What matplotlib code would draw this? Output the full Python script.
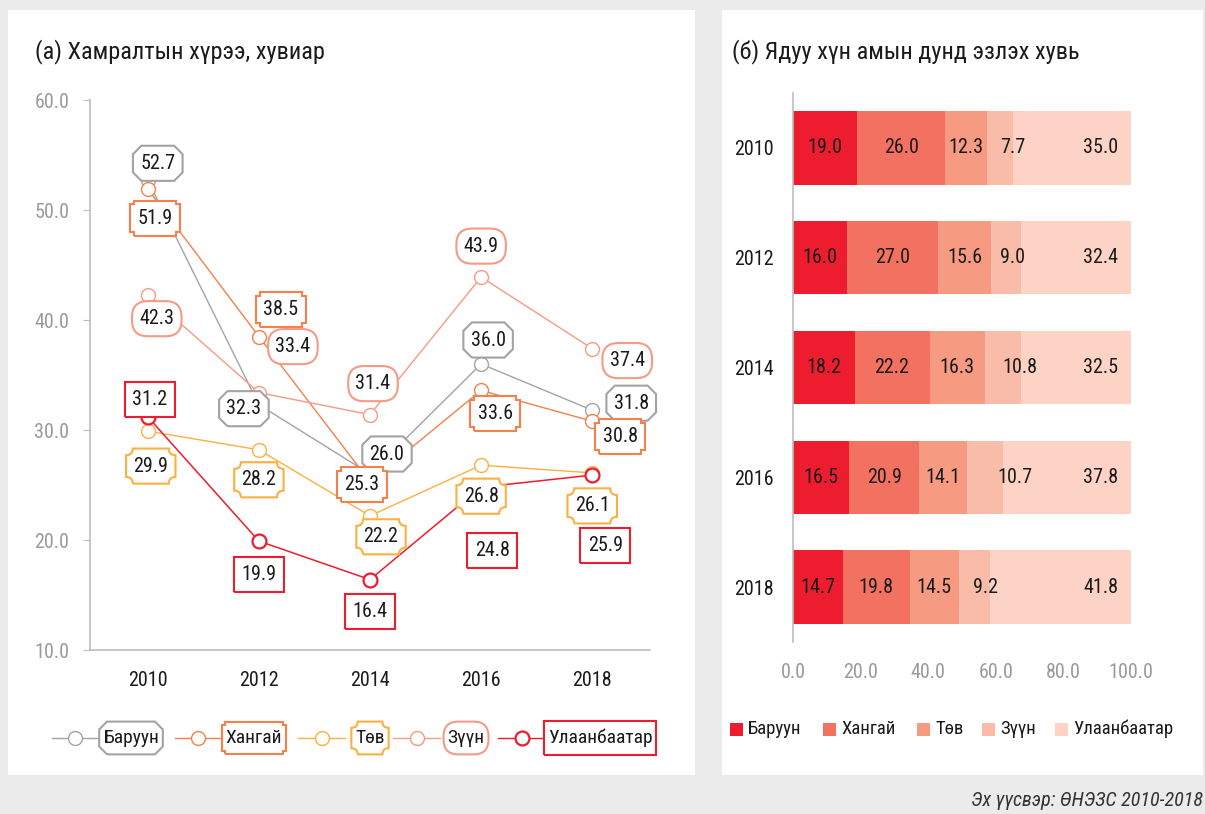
import matplotlib
matplotlib.use('Agg')
import matplotlib.pyplot as plt
from matplotlib import font_manager
from matplotlib.path import Path
from matplotlib.patches import Rectangle
from matplotlib.lines import Line2D
import numpy as np

# pick a narrow face if one is installed
_ents = font_manager.fontManager.ttflist
_names = {f.name for f in _ents}
fs_scale = 1.0
if 'Roboto Condensed' in _names:
    plt.rcParams['font.family'] = ['Roboto Condensed', 'DejaVu Sans']
elif 'Liberation Sans Narrow' in _names:
    plt.rcParams['font.family'] = ['Liberation Sans Narrow', 'DejaVu Sans']
elif any(f.name == 'DejaVu Sans' and f.stretch == 'condensed' for f in _ents):
    plt.rcParams['font.family'] = ['DejaVu Sans']
    plt.rcParams['font.stretch'] = 'condensed'
    fs_scale = 0.95
else:
    plt.rcParams['font.family'] = ['Roboto', 'DejaVu Sans']
    fs_scale = 0.88

W, H = 1205, 814

years = ['2010', '2012', '2014', '2016', '2018']
regions = ['Баруун', 'Хангай', 'Төв', 'Зүүн', 'Улаанбаатар']

# (а) coverage, %
baruun_cov = [52.7, 32.3, 26.0, 36.0, 31.8]
khangai_cov = [51.9, 38.5, 25.3, 33.6, 30.8]
tov_cov = [29.9, 28.2, 22.2, 26.8, 26.1]
zuun_cov = [42.3, 33.4, 31.4, 43.9, 37.4]
ub_cov = [31.2, 19.9, 16.4, 24.8, 25.9]

# (б) share of the poor, %
baruun_share = [19.0, 16.0, 18.2, 16.5, 14.7]
khangai_share = [26.0, 27.0, 22.2, 20.9, 19.8]
tov_share = [12.3, 15.6, 16.3, 14.1, 14.5]
zuun_share = [7.7, 9.0, 10.8, 10.7, 9.2]
ub_share = [35.0, 32.4, 32.5, 37.8, 41.8]

line_colors = ['#a3a3a3', '#f4804c', '#fbb040', '#f59a85', '#ed1c2e']
bar_colors = ['#ed1c2e', '#f37161', '#f69a82', '#f9bca9', '#fdd3c5']

# label offsets in pixels (dx right, dy down)
label_off = [
    [(10, -17), (-15, 4), (17, -20), (7, -24), (39, -7)],
    [(7, 29), (22, -27), (-8, 3), (14, 23), (28, 15)],
    [(3, 35), (0, 30), (11, 21), (0, 31), (0, 33)],
    [(9, 24), (34, -46), (3, -31), (0, -31), (35, 12)],
    [(2, -17), (0, 33), (0, 32), (11, 63), (13, 70)],
]
zuun_bar_dx = [13, 6, 17, 30, 11]

FS = 14.5 * fs_scale
TFS = 17.5 * fs_scale


def box_style(kind, padx=0.36, pady=0.4):
    def style(x0, y0, width, height, mutation_size):
        px, py = padx * mutation_size, pady * mutation_size
        x0, y0 = x0 - px, y0 - py
        x1, y1 = x0 + width + 2 * px, y0 + height + 2 * py
        h = y1 - y0
        L, C, M = Path.LINETO, Path.CURVE3, Path.MOVETO
        if kind == 'oct':
            c = 0.24 * h
            v = [(x0 + c, y0), (x1 - c, y0), (x1, y0 + c), (x1, y1 - c),
                 (x1 - c, y1), (x0 + c, y1), (x0, y1 - c), (x0, y0 + c), (x0 + c, y0)]
            codes = [M] + [L] * 8
        elif kind == 'notch':
            c = 0.11 * h
            v = [(x0 + c, y0), (x1 - c, y0), (x1 - c, y0 + c), (x1, y0 + c),
                 (x1, y1 - c), (x1 - c, y1 - c), (x1 - c, y1), (x0 + c, y1),
                 (x0 + c, y1 - c), (x0, y1 - c), (x0, y0 + c), (x0 + c, y0 + c), (x0 + c, y0)]
            codes = [M] + [L] * 12
        elif kind == 'concave':
            c = 0.19 * h
            v = [(x0 + c, y0), (x1 - c, y0), (x1 - c, y0 + c), (x1, y0 + c),
                 (x1, y1 - c), (x1 - c, y1 - c), (x1 - c, y1), (x0 + c, y1),
                 (x0 + c, y1 - c), (x0, y1 - c), (x0, y0 + c), (x0 + c, y0 + c), (x0 + c, y0)]
            codes = [M, L, C, C, L, C, C, L, C, C, L, C, C]
        elif kind == 'pill':
            r = 0.45 * h
            v = [(x0 + r, y0), (x1 - r, y0), (x1, y0), (x1, y0 + r),
                 (x1, y1 - r), (x1, y1), (x1 - r, y1), (x0 + r, y1),
                 (x0, y1), (x0, y1 - r), (x0, y0 + r), (x0, y0), (x0 + r, y0)]
            codes = [M, L, C, C, L, C, C, L, C, C, L, C, C]
        else:
            v = [(x0, y0), (x1, y0), (x1, y1), (x0, y1), (x0, y0)]
            codes = [M, L, L, L, L]
        return Path(v, codes)
    return style


kinds = ['oct', 'notch', 'concave', 'pill', 'square']


def fx(px):
    return px / W


def fy(py):
    return 1 - py / H


fig = plt.figure(figsize=(W / 100, H / 100), dpi=100, facecolor='#ebebeb')

# white panels, behind the axes
for a, b in [(8, 695), (722, 1203)]:
    fig.patches.append(Rectangle((fx(a), fy(775)), fx(b) - fx(a), fy(10) - fy(775),
                                 transform=fig.transFigure, fc='white', ec='none', zorder=-10))

fig.text(fx(35), fy(52), '(а) Хамралтын хүрээ, хувиар', fontsize=TFS, va='center', color='#1a1a1a')
fig.text(fx(732), fy(52), '(б) Ядуу хүн амын дунд эзлэх хувь', fontsize=TFS, va='center', color='#1a1a1a')

# ---- left: line chart ----
ax = fig.add_axes([fx(90), fy(650), fx(650) - fx(90), fy(100) - fy(650)])
ax.set_facecolor('none')
x = np.arange(len(years))
series = [baruun_cov, khangai_cov, tov_cov, zuun_cov, ub_cov]
draw_order = [3, 2, 1, 0, 4]
for k in draw_order:
    ax.plot(x, series[k], color=line_colors[k], lw=1.1 if k == 4 else 1.0, marker='o', ms=10,
            mfc='white', mec=line_colors[k], mew=1.6 if k == 4 else 1.0, zorder=2 + k * 0.1)

for k in range(5):
    for i, v in enumerate(series[k]):
        dx, dy = label_off[k][i]
        ax.annotate(f'{v:.1f}', (x[i], v), xytext=(dx, -dy), textcoords='offset pixels',
                    ha='center', va='center', fontsize=FS, color='#1a1a1a', zorder=5,
                    bbox=dict(boxstyle=box_style(kinds[k]), fc='white',
                              ec=line_colors[k], lw=1.5))

ax.set_xlim(-0.52, 4.52)
ax.set_ylim(10, 60)
ax.set_yticks(np.arange(10, 61, 10))
ax.set_yticklabels([f'{t:.1f}' for t in np.arange(10, 61, 10)])
ax.set_xticks(x)
ax.set_xticklabels(years)
for s in ['top', 'right']:
    ax.spines[s].set_visible(False)
for s in ['left', 'bottom']:
    ax.spines[s].set_color('#bdbdbd')
    ax.spines[s].set_linewidth(1.2)
ax.tick_params(axis='y', length=5, color='#bdbdbd', labelcolor='#9a9a9a', labelsize=FS, pad=10)
ax.tick_params(axis='x', length=0, labelcolor='#1a1a1a', labelsize=FS, pad=15)

# left legend (drawn by hand)
leg_y = 738
leg_lines = [(52, 98), (175, 220), (298, 345), (393, 440), (498, 545)]
leg_box = [131, 254, 370, 466, 600]
for k in range(5):
    a, b = leg_lines[k]
    fig.add_artist(Line2D([fx(a), fx(b)], [fy(leg_y), fy(leg_y)], transform=fig.transFigure,
                          color=line_colors[k], lw=1.0))
    fig.add_artist(Line2D([fx((a + b) / 2)], [fy(leg_y)], transform=fig.transFigure,
                          marker='o', ms=10, mfc='white', mec=line_colors[k],
                          mew=1.6 if k == 4 else 1.0))
    fig.text(fx(leg_box[k]), fy(leg_y), regions[k], ha='center', va='center', fontsize=FS - 0.5,
             color='#1a1a1a', bbox=dict(boxstyle=box_style(kinds[k], padx=0.2, pady=0.38),
                                        fc='white', ec=line_colors[k], lw=1.5))

# ---- right: stacked bars ----
ax2 = fig.add_axes([fx(793), fy(642), fx(1131) - fx(793), fy(93) - fy(642)])
ax2.set_facecolor('none')
shares = [baruun_share, khangai_share, tov_share, zuun_share, ub_share]
y = np.arange(len(years))
left = np.zeros(len(years))
for k in range(5):
    vals = np.array(shares[k])
    ax2.barh(y, vals, left=left, height=0.67, color=bar_colors[k], label=regions[k], zorder=2)
    for i, v in enumerate(vals):
        if k == 4:
            ax2.annotate(f'{v:.1f}', (left[i] + v, y[i]), xytext=(-13, 0),
                         textcoords='offset pixels', ha='right', va='center',
                         fontsize=FS, color='#1a1a1a', zorder=4)
        else:
            dx = zuun_bar_dx[i] if k == 3 else 0
            ax2.annotate(f'{v:.1f}', (left[i] + v / 2, y[i]), xytext=(dx, 0),
                         textcoords='offset pixels', ha='center', va='center',
                         fontsize=FS, color='#1a1a1a', zorder=4)
    left += vals

ax2.set_xlim(0, 100)
ax2.set_ylim(4.5, -0.5)
ax2.set_yticks(y)
ax2.set_yticklabels(years)
ax2.set_xticks(np.arange(0, 101, 20))
ax2.set_xticklabels([f'{t:.1f}' for t in np.arange(0, 101, 20)])
for s in ['top', 'right', 'bottom']:
    ax2.spines[s].set_visible(False)
ax2.spines['left'].set_color('#bdbdbd')
ax2.spines['left'].set_linewidth(1.2)
ax2.tick_params(axis='y', length=0, labelcolor='#1a1a1a', labelsize=FS, pad=14)
ax2.tick_params(axis='x', length=0, labelcolor='#9a9a9a', labelsize=FS, pad=15)

# right legend
sq_x = [730, 823, 917, 982, 1055]
leg2_y = 729
for k in range(5):
    fig.patches.append(Rectangle((fx(sq_x[k]), fy(leg2_y + 6.5)), fx(13), 13 / H,
                                 transform=fig.transFigure, fc=bar_colors[k], ec='none'))
    fig.text(fx(sq_x[k] + 18), fy(leg2_y), regions[k], ha='left', va='center',
             fontsize=FS - 1, color='#1a1a1a')

fig.text(fx(1203), fy(800), 'Эх үүсвэр: ӨНЭЗС 2010-2018', ha='right', va='center',
         fontsize=FS, style='italic', color='#333333')

fig.savefig('out.png', dpi=100, facecolor=fig.get_facecolor())
